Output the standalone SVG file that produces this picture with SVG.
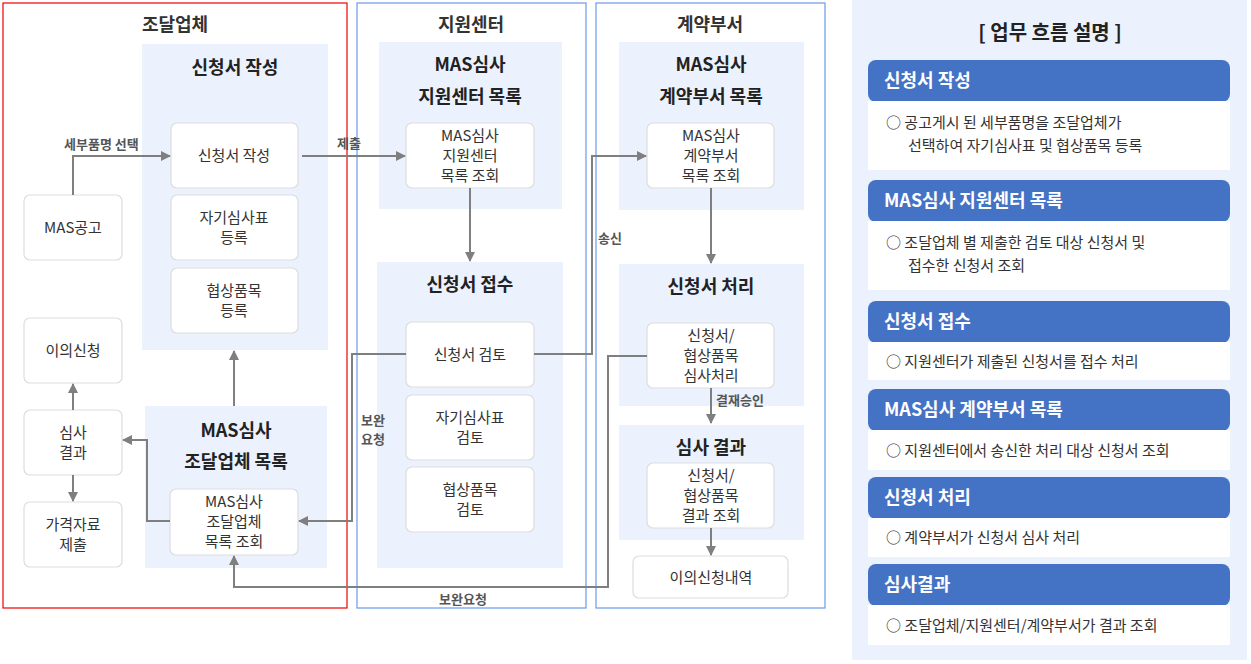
<svg xmlns="http://www.w3.org/2000/svg" width="1251" height="664" viewBox="0 0 1251 664">
<defs>
<marker id="ah" markerWidth="10" markerHeight="10" refX="9" refY="5" orient="auto" markerUnits="userSpaceOnUse"><path d="M0,0 L10,5 L0,10 z" fill="#7f7f7f"/></marker>
<style>
text{font-family:"Noto Sans CJK KR","Noto Sans",sans-serif;fill:#333}
.lane{font-size:18px;font-weight:bold;text-anchor:middle}
.gt{font-size:18px;font-weight:bold;text-anchor:middle;fill:#222}
.bg{fill:#ebf1fd}
.bx{fill:#fff;stroke:#ddd;stroke-width:1.2}
.t{font-size:15px;text-anchor:middle}
.lb{font-size:13px;font-weight:bold;fill:#555}
.c{fill:none;stroke:#7f7f7f;stroke-width:2;marker-end:url(#ah)}
.hd{fill:#4472c4}
.ht{font-size:18px;font-weight:bold;fill:#fff}
.bt{font-size:15px;fill:#333}
</style>
</defs>
<rect width="1251" height="664" fill="#fff"/>
<g id="lanes">
<rect x="3" y="3" width="344" height="605" fill="none" stroke="#e00" stroke-width="1.2"/>
<rect x="357" y="3" width="229" height="605" fill="none" stroke="#6a9be8" stroke-width="1.2"/>
<rect x="596" y="3" width="229" height="605" fill="none" stroke="#6a9be8" stroke-width="1.2"/>
<text class="lane" x="175" y="31">조달업체</text>
<text class="lane" x="471" y="31">지원센터</text>
<text class="lane" x="710" y="31">계약부서</text>
</g>
<g id="g-apply"><rect class="bg" x="142" y="44" width="186" height="306"/><text class="gt" x="235" y="74">신청서 작성</text></g>
<g id="g-vendorlist"><rect class="bg" x="145" y="406" width="182" height="162"/><text class="gt" x="236" y="437">MAS심사</text><text class="gt" x="236" y="468">조달업체 목록</text></g>
<g id="g-centerlist"><rect class="bg" x="379" y="42" width="183" height="167"/><text class="gt" x="470" y="71">MAS심사</text><text class="gt" x="470" y="103">지원센터 목록</text></g>
<g id="g-receive"><rect class="bg" x="377" y="262" width="186" height="306"/><text class="gt" x="470" y="291">신청서 접수</text></g>
<g id="g-deptlist"><rect class="bg" x="619" y="42" width="185" height="168"/><text class="gt" x="711" y="71">MAS심사</text><text class="gt" x="711" y="103">계약부서 목록</text></g>
<g id="g-process"><rect class="bg" x="619" y="264" width="185" height="142"/><text class="gt" x="711" y="293">신청서 처리</text></g>
<g id="g-result"><rect class="bg" x="619" y="425" width="185" height="115"/><text class="gt" x="711" y="454">심사 결과</text></g>

<g id="n-mas"><rect class="bx" x="24" y="195" width="98" height="65" rx="6"/><text class="t" x="73" y="233">MAS공고</text></g>
<g id="n-write"><rect class="bx" x="171" y="123" width="127" height="65" rx="6"/><text class="t" x="234" y="161">신청서 작성</text></g>
<g id="n-self"><rect class="bx" x="171" y="195" width="127" height="65" rx="6"/><text class="t" x="234" y="223">자기심사표</text><text class="t" x="234" y="243">등록</text></g>
<g id="n-nego"><rect class="bx" x="171" y="268" width="127" height="65" rx="6"/><text class="t" x="234" y="296">협상품목</text><text class="t" x="234" y="316">등록</text></g>
<g id="n-objection"><rect class="bx" x="24" y="318" width="98" height="65" rx="6"/><text class="t" x="73" y="356">이의신청</text></g>
<g id="n-res"><rect class="bx" x="24" y="410" width="98" height="65" rx="6"/><text class="t" x="73" y="438">심사</text><text class="t" x="73" y="458">결과</text></g>
<g id="n-price"><rect class="bx" x="24" y="502" width="98" height="65" rx="6"/><text class="t" x="73" y="530">가격자료</text><text class="t" x="73" y="550">제출</text></g>
<g id="n-vq"><rect class="bx" x="170" y="489" width="128" height="66" rx="6"/><text class="t" x="234" y="507">MAS심사</text><text class="t" x="234" y="527">조달업체</text><text class="t" x="234" y="547">목록 조회</text></g>
<g id="n-cq"><rect class="bx" x="406" y="123" width="128" height="65" rx="6"/><text class="t" x="470" y="141">MAS심사</text><text class="t" x="470" y="161">지원센터</text><text class="t" x="470" y="181">목록 조회</text></g>
<g id="n-rev"><rect class="bx" x="406" y="322" width="128" height="65" rx="6"/><text class="t" x="470" y="360">신청서 검토</text></g>
<g id="n-selfrev"><rect class="bx" x="406" y="395" width="128" height="65" rx="6"/><text class="t" x="470" y="423">자기심사표</text><text class="t" x="470" y="443">검토</text></g>
<g id="n-negorev"><rect class="bx" x="406" y="467" width="128" height="65" rx="6"/><text class="t" x="470" y="495">협상품목</text><text class="t" x="470" y="515">검토</text></g>
<g id="n-dq"><rect class="bx" x="647" y="123" width="127" height="65" rx="6"/><text class="t" x="711" y="141">MAS심사</text><text class="t" x="711" y="161">계약부서</text><text class="t" x="711" y="181">목록 조회</text></g>
<g id="n-proc"><rect class="bx" x="647" y="323" width="127" height="65" rx="6"/><text class="t" x="711" y="341">신청서/</text><text class="t" x="711" y="361">협상품목</text><text class="t" x="711" y="381">심사처리</text></g>
<g id="n-resq"><rect class="bx" x="647" y="463" width="127" height="65" rx="6"/><text class="t" x="711" y="481">신청서/</text><text class="t" x="711" y="501">협상품목</text><text class="t" x="711" y="521">결과 조회</text></g>
<g id="n-objlist"><rect class="bx" x="633" y="556" width="155" height="42" rx="6"/><text class="t" x="711" y="583">이의신청내역</text></g>

<g id="connectors">
<path class="c" d="M73,195 V156 H170"/>
<path class="c" d="M302,156 H405"/>
<path class="c" d="M470,188 V261"/>
<path class="c" d="M534,354 H592 V156 H646"/>
<path class="c" d="M406,354 H352 V521 H299"/>
<path class="c" d="M711,188 V263"/>
<path class="c" d="M711,388 V423"/>
<path class="c" d="M711,528 V555"/>
<path class="c" d="M647,356 H608 V587 H234 V556"/>
<path class="c" d="M234,406 V351"/>
<path class="c" d="M170,521 H147 V440 H123"/>
<path class="c" d="M73,410 V384"/>
<path class="c" d="M73,475 V501"/>
<text class="lb" x="64" y="149">세부품명 선택</text>
<text class="lb" x="337" y="148">제출</text>
<text class="lb" x="598" y="243">송신</text>
<text class="lb" x="361" y="425">보완</text>
<text class="lb" x="361" y="444">요청</text>
<text class="lb" x="716" y="405">결재승인</text>
<text class="lb" x="439" y="604">보완요청</text>
</g>

<g id="legend">
<rect x="852" y="0" width="395" height="660" fill="#ebf1fd"/>
<text x="1050" y="40" style="font-size:20px;font-weight:bold;text-anchor:middle;fill:#222">[ 업무 흐름 설명 ]</text>
<rect class="hd" x="868" y="60" width="362" height="42" rx="8"/><text class="ht" x="884" y="87">신청서 작성</text>
<rect x="868" y="101" width="362" height="69" fill="#fff"/>
<text class="bt" x="886" y="128">○ 공고게시 된 세부품명을 조달업체가</text><text class="bt" x="908" y="151">선택하여 자기심사표 및 협상품목 등록</text>
<rect class="hd" x="868" y="180" width="362" height="42" rx="8"/><text class="ht" x="884" y="207">MAS심사 지원센터 목록</text>
<rect x="868" y="221" width="362" height="69" fill="#fff"/>
<text class="bt" x="886" y="248">○ 조달업체 별 제출한 검토 대상 신청서 및</text><text class="bt" x="908" y="271">접수한 신청서 조회</text>
<rect class="hd" x="868" y="301" width="362" height="42" rx="8"/><text class="ht" x="884" y="328">신청서 접수</text>
<rect x="868" y="342" width="362" height="38" fill="#fff"/>
<text class="bt" x="886" y="367">○ 지원센터가 제출된 신청서를 접수 처리</text>
<rect class="hd" x="868" y="389" width="362" height="42" rx="8"/><text class="ht" x="884" y="416">MAS심사 계약부서 목록</text>
<rect x="868" y="430" width="362" height="40" fill="#fff"/>
<text class="bt" x="886" y="456">○ 지원센터에서 송신한 처리 대상 신청서 조회</text>
<rect class="hd" x="868" y="477" width="362" height="42" rx="8"/><text class="ht" x="884" y="504">신청서 처리</text>
<rect x="868" y="518" width="362" height="39" fill="#fff"/>
<text class="bt" x="886" y="543">○ 계약부서가 신청서 심사 처리</text>
<rect class="hd" x="868" y="564" width="362" height="42" rx="8"/><text class="ht" x="884" y="591">심사결과</text>
<rect x="868" y="605" width="362" height="40" fill="#fff"/>
<text class="bt" x="886" y="631">○ 조달업체/지원센터/계약부서가 결과 조회</text>
</g>
</svg>
